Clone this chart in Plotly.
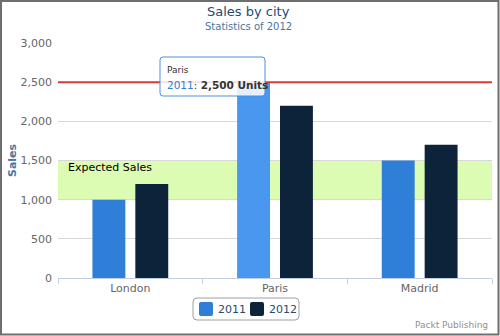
import plotly.graph_objects as go

cities = ["London", "Paris", "Madrid"]
sales_2011 = [1000, 2500, 1500]
sales_2012 = [1200, 2200, 1700]
band_from, band_to = 1000, 1500
target = 2500

W, H = 500, 336
L, R, T, B = 58, 8, 43, 58
pw, ph = W - L - R, H - T - B

def px(x):
    return (x - L) / pw

def py(y):
    return (H - B - y) / ph

def rrect(x0, y0, x1, y1, r):
    return ("M {a},{b} L {c},{b} Q {c2},{b} {c2},{b2} L {c2},{d2} Q {c2},{d} {c},{d} "
            "L {a},{d} Q {a2},{d} {a2},{d2} L {a2},{b2} Q {a2},{b} {a},{b} Z").format(
        a=px(x0 + r), c=px(x1 - r), a2=px(x0), c2=px(x1),
        b=py(y0), b2=py(y0 + r), d=py(y1), d2=py(y1 - r))

FONT = "DejaVu Sans"
c2011 = "#2f7ed8"
c2011_hover = "#4a97f0"
c2012 = "#0d233a"
series_names = ["2011", "2012"]
series_colors = [c2011, c2012]

colors_2011 = [c2011_hover if c == "Paris" else c2011 for c in cities]

fig = go.Figure()
fig.add_trace(go.Bar(name=series_names[0], x=cities, y=sales_2011,
                     marker=dict(color=colors_2011, line=dict(width=0)),
                     hoverinfo="skip"))
fig.add_trace(go.Bar(name=series_names[1], x=cities, y=sales_2012,
                     marker=dict(color=c2012, line=dict(width=0)),
                     hoverinfo="skip"))

shapes = [
    dict(type="rect", xref="paper", yref="y", x0=0, x1=1, y0=band_from, y1=band_to,
         fillcolor="#dcfcb4", line=dict(width=0), layer="between"),
    dict(type="line", xref="paper", yref="y", x0=0, x1=1, y0=target, y1=target,
         line=dict(color="#d83a3a", width=2), layer="above"),
    # page frame
    dict(type="rect", xref="paper", yref="paper", x0=px(1), x1=px(W - 1.5), y0=py(1), y1=py(H - 1.5),
         line=dict(color="#6e6e6e", width=2), fillcolor="rgba(0,0,0,0)"),
    # rounded legend box
    dict(type="path", xref="paper", yref="paper", path=rrect(193, 298, 299, 320, 4),
         line=dict(color="#a0a0a0", width=1), fillcolor="rgba(0,0,0,0)"),
    # tooltip box
    dict(type="path", xref="paper", yref="paper", path=rrect(160, 57, 265, 96, 3),
         line=dict(color="#4a8ee0", width=1), fillcolor="rgba(255,255,255,0.85)"),
]

annotations = [
    dict(text="Sales by city", xref="paper", yref="paper", x=px(248), y=py(12),
         yanchor="middle", showarrow=False, font=dict(family=FONT, size=13, color="#274b6d")),
    dict(text="Statistics of 2012", xref="paper", yref="paper", x=px(248), y=py(27),
         yanchor="middle", showarrow=False, font=dict(family=FONT, size=10, color="#4d759e")),
    dict(text="<b>Sales</b>", xref="paper", yref="paper", x=px(12), y=py(160),
         xanchor="center", yanchor="middle",
         textangle=-90, showarrow=False, font=dict(family=FONT, size=11, color="#4d759e")),
    dict(text="Expected Sales", xref="paper", yref="y", x=px(66), y=1415,
         xanchor="left", yanchor="middle", showarrow=False,
         font=dict(family=FONT, size=11, color="#000000")),
    dict(text="Packt Publishing", xref="paper", yref="paper", x=px(490), y=py(325),
         xanchor="right", yanchor="middle", showarrow=False,
         font=dict(family=FONT, size=9, color="#909090")),
    dict(text="Paris", xref="paper", yref="paper", x=px(165), y=py(70),
         xanchor="left", yanchor="middle", showarrow=False,
         font=dict(family=FONT, size=9, color="#333333")),
    dict(text="<span style='color:#2f7ed8'>2011</span>: <b>2,500 Units</b>",
         xref="paper", yref="paper", x=px(165), y=py(84.5),
         xanchor="left", yanchor="middle", showarrow=False,
         font=dict(family=FONT, size=10.5, color="#333333")),
]

# manual legend
leg_x = [199, 250]
for name, col, lx in zip(series_names, series_colors, leg_x):
    shapes.append(dict(type="path", xref="paper", yref="paper",
                       path=rrect(lx, 302, lx + 14, 316, 2),
                       line=dict(width=0), fillcolor=col))
    annotations.append(dict(text=name, xref="paper", yref="paper", x=px(lx + 17), y=py(309.5),
                            xanchor="left", yanchor="middle", showarrow=False,
                            font=dict(family=FONT, size=11, color="#274b6d")))

fig.update_layout(
    width=W, height=H,
    margin=dict(l=L, r=R, t=T, b=B),
    paper_bgcolor="white", plot_bgcolor="white",
    barmode="group", bargap=0.407, bargroupgap=0.233,
    font=dict(family=FONT, size=11, color="#666666"),
    showlegend=False,
    shapes=shapes, annotations=annotations,
    xaxis=dict(type="category", showgrid=False, showline=True, linecolor="#c0d0e0",
               linewidth=1, ticks="outside", tickson="boundaries", ticklen=5,
               tickcolor="#c0d0e0", tickfont=dict(family=FONT, size=11, color="#666666"),
               fixedrange=True),
    yaxis=dict(range=[0, 3000], dtick=500, tickformat=",", showgrid=True,
               gridcolor="#d8d8d8", gridwidth=1, zeroline=False, showline=False,
               ticks="", ticklabelstandoff=5,
               tickfont=dict(family=FONT, size=11, color="#666666"),
               fixedrange=True),
)

fig.write_html("out.html")
